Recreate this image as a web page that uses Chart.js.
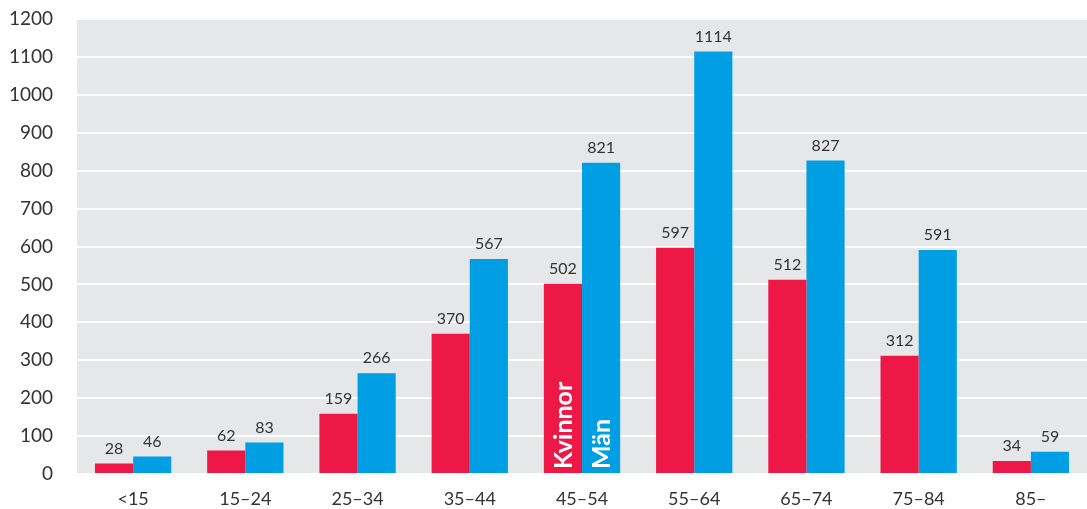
<!DOCTYPE html>
<html>
<head>
<meta charset="utf-8">
<script src="https://cdn.jsdelivr.net/npm/chart.js@4/dist/chart.umd.min.js"></script>
<style>
  html, body { margin: 0; padding: 0; background: #fff; }
  #wrap { width: 1087px; height: 509px; }
</style>
</head>
<body>
<div id="wrap"><canvas id="ageChart"></canvas></div>
<script>
const ageGroups = ["<15", "15–24", "25–34", "35–44", "45–54", "55–64", "65–74", "75–84", "85–"];
const women = [28, 62, 159, 370, 502, 597, 512, 312, 34];
const men = [46, 83, 266, 567, 821, 1114, 827, 591, 59];
const yTicks = [0, 100, 200, 300, 400, 500, 600, 700, 800, 900, 1000, 1100, 1200];

const FONT = "Lato, 'Open Sans', sans-serif";
const RED = "#ee1846";
const BLUE = "#009fe3";

// grey plot background
const plotBg = {
  id: "plotBg",
  beforeDraw(chart) {
    const { ctx, chartArea: a } = chart;
    ctx.save();
    ctx.fillStyle = "#e6e7e8";
    ctx.fillRect(a.left, a.top, a.right - a.left, a.bottom - a.top);
    ctx.restore();
  },
};

// numbers above bars + series names inside the 45–54 group
const barText = {
  id: "barText",
  afterDatasetsDraw(chart) {
    const ctx = chart.ctx;
    ctx.save();
    chart.data.datasets.forEach((ds, i) => {
      const meta = chart.getDatasetMeta(i);
      meta.data.forEach((bar, j) => {
        ctx.fillStyle = "#333";
        ctx.font = "16px " + FONT;
        ctx.textAlign = "center";
        ctx.textBaseline = "bottom";
        ctx.fillText(String(ds.data[j]), bar.x, bar.y - 7);
      });
      const b = meta.data[4];
      ctx.save();
      ctx.translate(b.x, b.base - 4);
      ctx.rotate(-Math.PI / 2);
      ctx.fillStyle = "#fff";
      ctx.font = "bold 25px " + FONT;
      ctx.textAlign = "left";
      ctx.textBaseline = "middle";
      ctx.fillText(ds.label, 0, 1);
      ctx.restore();
    });
    ctx.restore();
  },
};

new Chart(document.getElementById("ageChart").getContext("2d"), {
  type: "bar",
  data: {
    labels: ageGroups,
    datasets: [
      { label: "Kvinnor", data: women, backgroundColor: RED },
      { label: "Män", data: men, backgroundColor: BLUE },
    ],
  },
  options: {
    responsive: true,
    maintainAspectRatio: false,
    animation: false,
    layout: { padding: { top: 19, right: 0, left: 0, bottom: 0 } },
    datasets: { bar: { categoryPercentage: 0.68, barPercentage: 1.0 } },
    plugins: { legend: { display: false }, tooltip: { enabled: false } },
    scales: {
      x: {
        grid: { display: false },
        border: { display: false },
        ticks: { color: "#333", font: { family: FONT, size: 18 }, padding: 6 },
        afterFit: (s) => { s.height = 35; s.paddingLeft = 0; s.paddingRight = 0; },
      },
      y: {
        min: 0,
        max: 1200,
        afterBuildTicks: (s) => { s.ticks = yTicks.map((v) => ({ value: v })); },
        grid: { color: "#fff", lineWidth: 2, drawTicks: false },
        border: { display: false },
        ticks: {
          color: "#333",
          font: { family: FONT, size: 19 },
          padding: 24,
          callback: (v) => String(v),
        },
        afterFit: (s) => { s.width = 77; s.paddingTop = 0; s.paddingBottom = 0; },
      },
    },
  },
  plugins: [plotBg, barText],
});
</script>
</body>
</html>
